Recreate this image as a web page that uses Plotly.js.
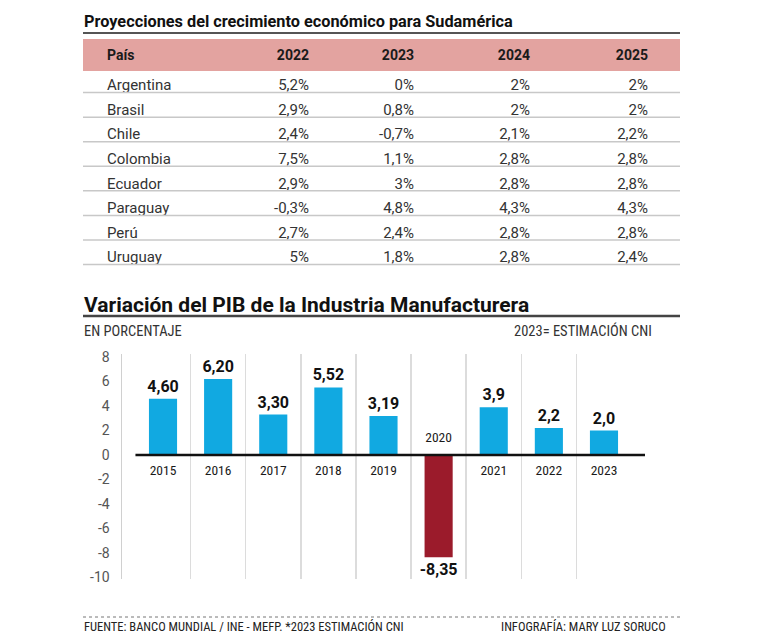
<!DOCTYPE html>
<html>
<head>
<meta charset="utf-8">
<script src="https://cdn.plot.ly/plotly-3.0.1.min.js"></script>
<style>
html,body{margin:0;padding:0;background:#fff;}
#chart{width:763px;height:633px;}
</style>
</head>
<body>
<div id="chart"></div>
<script>
// ---- Table data ----
const tableTitle = 'Proyecciones del crecimiento económico para Sudamérica';
const headerCountry = 'País';
const headerYears = ['2022', '2023', '2024', '2025'];
const countries = ['Argentina', 'Brasil', 'Chile', 'Colombia', 'Ecuador', 'Paraguay', 'Perú', 'Uruguay'];
const proj2022 = [5.2, 2.9, 2.4, 7.5, 2.9, -0.3, 2.7, 5];
const proj2023 = [0, 0.8, -0.7, 1.1, 3, 4.8, 2.4, 1.8];
const proj2024 = [2, 2, 2.1, 2.8, 2.8, 4.3, 2.8, 2.8];
const proj2025 = [2, 2, 2.2, 2.8, 2.8, 4.3, 2.8, 2.4];

// ---- Bar chart data ----
const chartTitle = 'Variación del PIB de la Industria Manufacturera';
const chartSubtitle = 'EN PORCENTAJE';
const chartNote = '2023= ESTIMACIÓN CNI';
const years = [2015, 2016, 2017, 2018, 2019, 2020, 2021, 2022, 2023];
const pibVar = [4.60, 6.20, 3.30, 5.52, 3.19, -8.35, 3.9, 2.2, 2.0];
const pibDecimals = [2, 2, 2, 2, 2, 2, 1, 1, 1];
const yTicks = [8, 6, 4, 2, 0, -2, -4, -6, -8, -10];
const sourceText = 'FUENTE: BANCO MUNDIAL / INE - MEFP. *2023 ESTIMACIÓN CNI';
const creditText = 'INFOGRAFÍA: MARY LUZ SORUCO';

// ---- helpers ----
const W = 763, H = 633;
const px = x => x / W;
const py = y => 1 - y / H;
const pct = v => String(v).replace('.', ',') + '%';
const FONT = 'Roboto, "Noto Sans", sans-serif';
const COND = '"Roboto Condensed", "Liberation Sans Narrow", Roboto, sans-serif';

const headerH = 28, rowH = 24.57, tableTop = 39;
const blank = countries.map(() => '');

const table = {
  type: 'table',
  domain: {x: [px(83), px(680)], y: [py(tableTop + headerH + rowH * countries.length + 30), py(tableTop)]},
  columnwidth: [16, 101, 117, 105, 116, 118, 24],
  header: {
    values: [''].concat(['<b>' + headerCountry + '</b>'], headerYears.map(y => '<b>' + y + '</b>'), ['']),
    align: ['left', 'left', 'right', 'right', 'right', 'right', 'left'],
    fill: {color: '#e3a3a0'},
    line: {color: '#e3a3a0', width: 0},
    font: {family: FONT, size: 14, color: '#1a1a1a'},
    height: headerH
  },
  cells: {
    values: [blank, countries, proj2022.map(pct), proj2023.map(pct), proj2024.map(pct), proj2025.map(pct), blank],
    align: ['left', 'left', 'right', 'right', 'right', 'right', 'left'],
    fill: {color: '#ffffff'},
    line: {color: '#ffffff', width: 0},
    font: {family: FONT, size: 15, color: '#333333'},
    height: rowH
  }
};

const bars = {
  type: 'bar',
  x: years,
  y: pibVar,
  marker: {color: pibVar.map(v => v >= 0 ? '#11a9e1' : '#9b1b2b')},
  text: pibVar.map((v, i) => v.toFixed(pibDecimals[i]).replace('.', ',')),
  textposition: 'outside',
  constraintext: 'none',
  textfont: {family: FONT, size: 16, color: '#111', weight: 'bold'},
  cliponaxis: false,
  hoverinfo: 'skip',
  xaxis: 'x', yaxis: 'y'
};

const yearLabels = {
  type: 'scatter',
  mode: 'markers+text',
  x: years,
  y: years.map(() => 0),
  text: years.map(String),
  textposition: pibVar.map(v => v >= 0 ? 'bottom center' : 'top center'),
  marker: {size: 14, opacity: 0},
  textfont: {family: COND, size: 13.5, color: '#1a1a1a'},
  cliponaxis: false,
  hoverinfo: 'skip',
  xaxis: 'x', yaxis: 'y'
};

const xRange = [2014.256, 2023.744];
const shapes = [];
// title underlines
shapes.push({type: 'line', xref: 'paper', yref: 'paper', x0: px(83), x1: px(680), y0: py(33), y1: py(33), line: {color: '#555', width: 2}});
shapes.push({type: 'line', xref: 'paper', yref: 'paper', x0: px(83), x1: px(680), y0: py(316), y1: py(316), line: {color: '#444', width: 2.5}});
// row separators
for (let k = 1; k <= countries.length; k++) {
  const y = tableTop + headerH + 1 + k * rowH;
  shapes.push({type: 'line', xref: 'paper', yref: 'paper', x0: px(83), x1: px(680), y0: py(y), y1: py(y), line: {color: '#c8c8c8', width: 1.5}});
}
// zero line of bar chart
shapes.push({type: 'line', xref: 'x', yref: 'y', x0: years[0] - 0.5, x1: xRange[1], y0: 0, y1: 0, line: {color: '#111', width: 2.5}, layer: 'above'});
// footer dotted line
shapes.push({type: 'line', xref: 'paper', yref: 'paper', x0: px(83), x1: px(680), y0: py(617), y1: py(617), line: {color: '#777', width: 1, dash: 'dot'}});

const annotations = [
  {text: '<b>' + tableTitle + '</b>', xref: 'paper', yref: 'paper', x: px(82), y: py(21.5), xanchor: 'left', yanchor: 'middle', showarrow: false, font: {family: FONT, size: 16.3, color: '#111'}},
  {text: '<b>' + chartTitle + '</b>', xref: 'paper', yref: 'paper', x: px(82), y: py(304.5), xanchor: 'left', yanchor: 'middle', showarrow: false, font: {family: FONT, size: 21, color: '#111'}},
  {text: chartSubtitle, xref: 'paper', yref: 'paper', x: px(82), y: py(331), xanchor: 'left', yanchor: 'middle', showarrow: false, font: {family: COND, size: 14.5, color: '#333'}},
  {text: chartNote, xref: 'paper', yref: 'paper', x: px(654), y: py(331), xanchor: 'right', yanchor: 'middle', showarrow: false, font: {family: COND, size: 14.5, color: '#333'}},
  {text: sourceText, xref: 'paper', yref: 'paper', x: px(82), y: py(626), xanchor: 'left', yanchor: 'middle', showarrow: false, font: {family: COND, size: 12.5, color: '#222'}},
  {text: creditText, xref: 'paper', yref: 'paper', x: px(668), y: py(626), xanchor: 'right', yanchor: 'middle', showarrow: false, font: {family: COND, size: 12.5, color: '#222'}}
];

const layout = {
  width: W, height: H,
  margin: {l: 0, r: 0, t: 0, b: 0},
  paper_bgcolor: '#fff', plot_bgcolor: '#fff',
  showlegend: false,
  bargap: 0.49,
  xaxis: {
    domain: [px(122), px(645)],
    range: xRange,
    tickmode: 'array',
    tickvals: years.slice(1).map(y => y - 0.5),
    showticklabels: false,
    ticks: '',
    showgrid: true, gridcolor: '#dcdcdc', gridwidth: 1.5,
    zeroline: false, showline: false, fixedrange: true
  },
  yaxis: {
    domain: [py(579.3), py(354)],
    range: [-10.15, 8.25],
    tickmode: 'array',
    tickvals: yTicks,
    ticktext: yTicks.map(String),
    ticks: '',
    ticklabelstandoff: 8,
    tickfont: {family: FONT, size: 14, color: '#555'},
    showgrid: false, zeroline: false,
    showline: true, linecolor: '#d0d0d0', linewidth: 1.5,
    automargin: false, fixedrange: true
  },
  shapes: shapes,
  annotations: annotations
};

Plotly.newPlot('chart', [table, bars, yearLabels], layout, {displayModeBar: false, staticPlot: true});
</script>
</body>
</html>
